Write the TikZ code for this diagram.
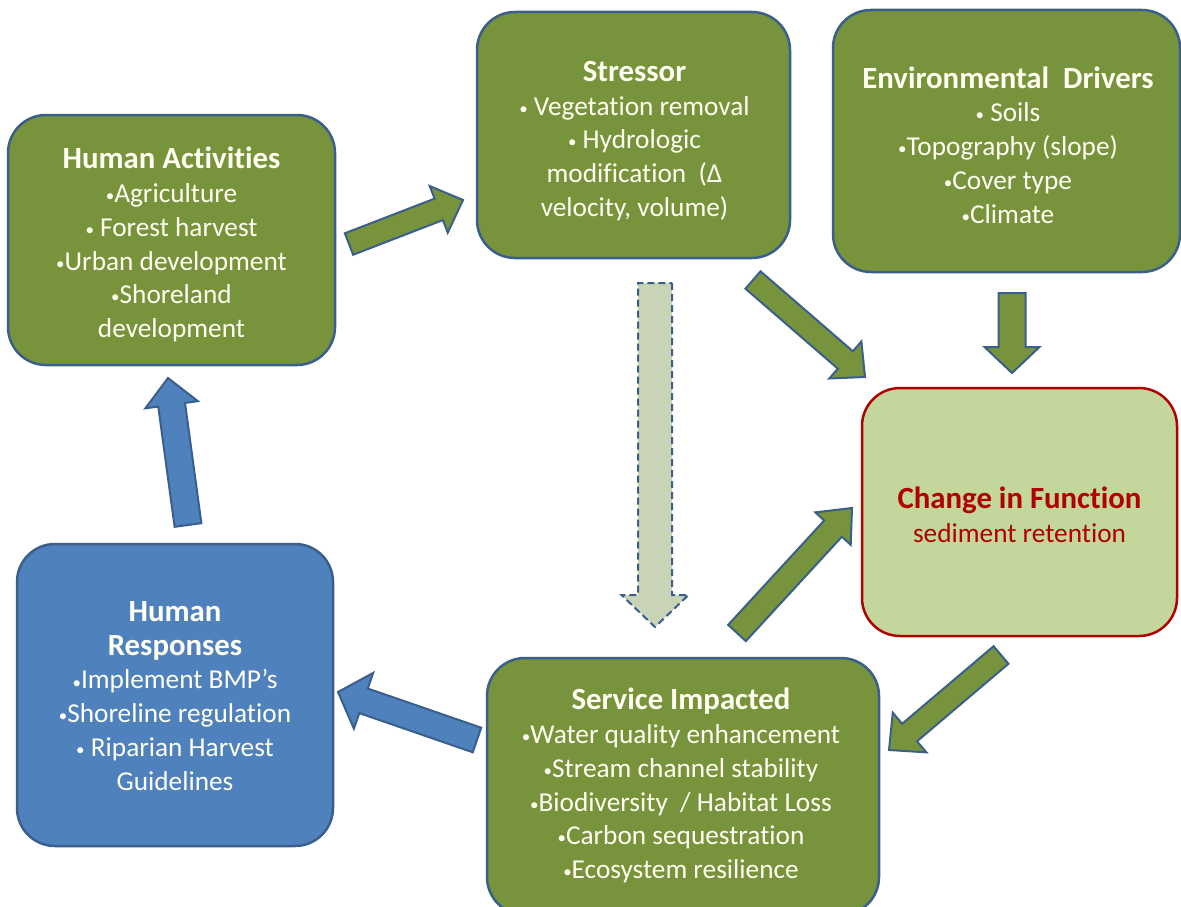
\documentclass[tikz,border=0pt]{standalone}
\usepackage{fontspec}
\setmainfont{Carlito}[RawFeature=-liga]
\usetikzlibrary{calc}

\definecolor{leaf}{HTML}{77933C}
\definecolor{leafpale}{HTML}{C3D69B}
\definecolor{edge}{HTML}{3A5F8C}
\definecolor{sky}{HTML}{4F81BD}
\definecolor{crimson}{HTML}{B00000}
\definecolor{ghost}{HTML}{C9D3B6}
\definecolor{cream}{HTML}{FFFFF2}

\tikzset{
  box/.style={draw=edge, line width=2.5pt, rounded corners=38pt, inner sep=0pt},
  greenbox/.style={box, fill=leaf},
  bluebox/.style={box, fill=sky},
  redbox/.style={box, fill=leafpale, draw=crimson},
  txt/.style={text=cream, align=center, inner sep=0pt, font=\fontsize{27.3}{33.8}\selectfont},
  redtxt/.style={txt, text=crimson},
  greenarrow/.style={fill=leaf, draw=edge, line width=2pt, line join=miter},
  bluearrow/.style={fill=sky, draw=edge, line width=2pt, line join=miter},
  ghostarrow/.style={fill=ghost, draw=edge, line width=2pt, dash pattern=on 7pt off 4pt, line join=miter},
}
\newcommand\ttl[1]{{\fontsize{30.8}{33.8}\selectfont\bfseries #1}}
\newcommand\bu{{\fontsize{17}{17}\selectfont\raisebox{0.12ex}{•}}}

% block arrow: [style]{tail}{tip}{half shaft}{half head}{head length}
\newcommand\blockarrow[6][]{%
  \coordinate (bab) at ($(#3)!#6!(#2)$);
  \draw[#1] ($(#2)!#4!90:(#3)$) -- ($(bab)!#4!90:(#3)$) -- ($(bab)!#5!90:(#3)$)
    -- (#3) -- ($(bab)!#5!-90:(#3)$) -- ($(bab)!#4!-90:(#3)$)
    -- ($(#2)!#4!-90:(#3)$) -- cycle;}

\begin{document}
\begin{tikzpicture}[x=1pt,y=-1pt]
\fill[white] (0,0) rectangle (1181,907);
\clip (0,0) rectangle (1181,907);

% boxes
\node[greenbox, minimum width=327pt, minimum height=250pt] (ha) at (171.5,240) {};
\node[greenbox, minimum width=313pt, minimum height=246pt] (st) at (633.5,135) {};
\node[greenbox, minimum width=347pt, minimum height=262pt] (ed) at (1006.5,141) {};
\node[redbox, minimum width=315pt, minimum height=248pt] (cf) at (1019.5,512) {};
\node[bluebox, minimum width=316pt, minimum height=302pt] (hr) at (175,695) {};
\node[greenbox, minimum width=392pt, minimum height=257pt] (si) at (683,786.5) {};

% box texts
\node[txt] (hat) at ($(ha)+(0,4.5)$)
  {\ttl{Human Activities}\\\bu Agriculture\\\bu{} Forest harvest\\\bu Urban development\\\bu Shoreland\\development};
\node[txt] (stt) at ($(st)+(1,6)$)
  {\ttl{Stressor}\\\bu{} Vegetation removal\\\bu{} Hydrologic\\modification~ (Δ\\velocity, volume)};
\node[txt] (edt) at ($(ed)+(1.5,4)$)
  {\ttl{Environmental~ Drivers}\\\bu{} Soils\\\bu Topography (slope)\\\bu Cover type\\\bu Climate};
\node[redtxt] (cft) at ($(cf)+(0,2.5)$)
  {\ttl{Change in Function}\\sediment retention};
\node[txt] (hrt) at ($(hr)+(0,1)$)
  {\ttl{Human}\\\ttl{Responses}\\\bu Implement BMP’s\\\bu Shoreline regulation\\\bu{} Riparian Harvest\\Guidelines};
\node[txt] (sit) at ($(si)+(-2,-1)$)
  {\ttl{Service Impacted}\\\bu Water quality enhancement\\\bu Stream channel stability\\\bu Biodiversity~ / Habitat Loss\\\bu Carbon sequestration\\\bu Ecosystem resilience};

% arrow ends
\coordinate (haT) at (349,244);  \coordinate (stH) at (463,200);
\coordinate (stT) at (753,280);  \coordinate (cfH1) at (865,377);
\coordinate (edT) at (1012,293); \coordinate (cfH2) at (1012,373);
\coordinate (siT) at (737,633);  \coordinate (cfH3) at (852,508);
\coordinate (stT2) at (655,283); \coordinate (siH) at (655,627);
\coordinate (cfT) at (1001,655); \coordinate (siH2) at (889,750);
\coordinate (siT2) at (477,740); \coordinate (hrH) at (338,692);
\coordinate (hrT) at (188,525);  \coordinate (haH) at (168,378);

% arrows
\blockarrow[greenarrow]{haT}{stH}{11.5pt}{25pt}{26pt}
\blockarrow[greenarrow]{stT}{cfH1}{11.5pt}{24.5pt}{26pt}
\blockarrow[greenarrow]{edT}{cfH2}{13.5pt}{27.5pt}{26pt}
\blockarrow[greenarrow]{siT}{cfH3}{12pt}{24pt}{28pt}
\blockarrow[ghostarrow]{stT2}{siH}{17pt}{33.5pt}{32pt}
\blockarrow[greenarrow]{cfT}{siH2}{11.5pt}{26pt}{27pt}
\blockarrow[bluearrow]{siT2}{hrH}{13pt}{29.5pt}{27pt}
\blockarrow[bluearrow]{hrT}{haH}{13.5pt}{26.5pt}{27pt}
\end{tikzpicture}
\end{document}
